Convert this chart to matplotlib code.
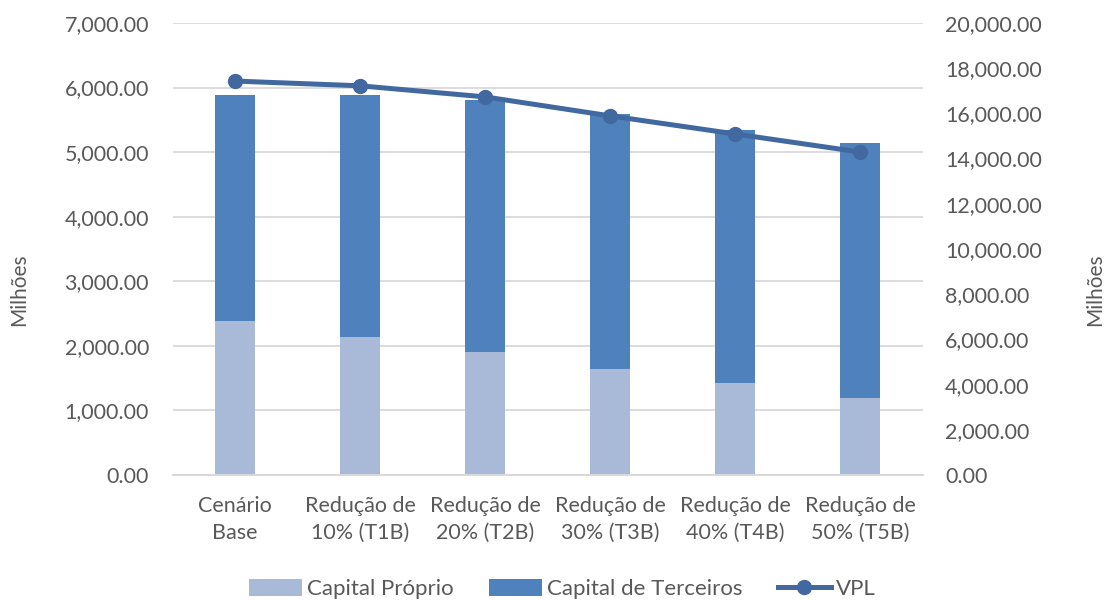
import numpy as np
import matplotlib.pyplot as plt
from matplotlib.ticker import FuncFormatter

plt.rcParams['font.family'] = ['Lato', 'DejaVu Sans']

cenarios = ['Cenário\nBase', 'Redução de\n10% (T1B)', 'Redução de\n20% (T2B)',
            'Redução de\n30% (T3B)', 'Redução de\n40% (T4B)', 'Redução de\n50% (T5B)']
capital_proprio = [2380, 2140, 1905, 1645, 1425, 1195]
capital_terceiros = [3505, 3745, 3905, 3950, 3920, 3950]
vpl = [17430, 17220, 16730, 15890, 15090, 14290]

cor_texto = '#595959'
x = np.arange(len(cenarios))

fig = plt.figure(figsize=(11.13, 6), dpi=100)
ax = fig.add_axes([0.155, 0.2083, 0.674, 0.7534])
ax2 = ax.twinx()

ax.bar(x, capital_proprio, width=0.32, color='#A9B9D8', label='Capital Próprio', zorder=2)
ax.bar(x, capital_terceiros, width=0.32, bottom=capital_proprio, color='#4F81BD',
       label='Capital de Terceiros', zorder=2)
ax2.plot(x, vpl, color='#41699F', lw=3.6, marker='o', markersize=10, label='VPL')

ax.set_xlim(-0.5, 5.5)
ax.set_ylim(0, 7000)
ax2.set_ylim(0, 20000)
ax.set_yticks(np.arange(0, 7001, 1000))
ax2.set_yticks(np.arange(0, 20001, 2000))
fmt = FuncFormatter(lambda v, p: f'{v:,.2f}')
ax.yaxis.set_major_formatter(fmt)
ax2.yaxis.set_major_formatter(fmt)

ax.grid(axis='y', color='#D9D9D9', lw=1.3, zorder=0)
for a in (ax, ax2):
    for s in ('top', 'left', 'right'):
        a.spines[s].set_visible(False)
    a.spines['bottom'].set_color('#D9D9D9')
    a.spines['bottom'].set_linewidth(1.3)
    a.tick_params(length=0, labelsize=15.5, colors=cor_texto)

ax.tick_params(axis='y', pad=17)
ax2.tick_params(axis='y', pad=16)
ax.tick_params(axis='x', pad=15)
ax.set_xticks(x)
ax.set_xticklabels(cenarios, fontsize=15.5, color=cor_texto, linespacing=1.45)

# títulos dos eixos (Milhões) um pouco abaixo do centro
fig.text(19 / 1113, 1 - 290 / 600, 'Milhões', rotation=90, ha='center', va='center',
         fontsize=15, color=cor_texto)
fig.text(1095 / 1113, 1 - 290 / 600, 'Milhões', rotation=90, ha='center', va='center',
         fontsize=15, color=cor_texto)

h1, l1 = ax.get_legend_handles_labels()
h2, l2 = ax2.get_legend_handles_labels()
fig.legend(h1 + h2, l1 + l2, loc='center', bbox_to_anchor=(0.505, 0.018), ncol=3,
           frameon=False, fontsize=16, labelcolor=cor_texto, handlelength=2.4,
           handleheight=0.75, handletextpad=0.2, columnspacing=1.6)

fig.savefig('out.png', dpi=100)
